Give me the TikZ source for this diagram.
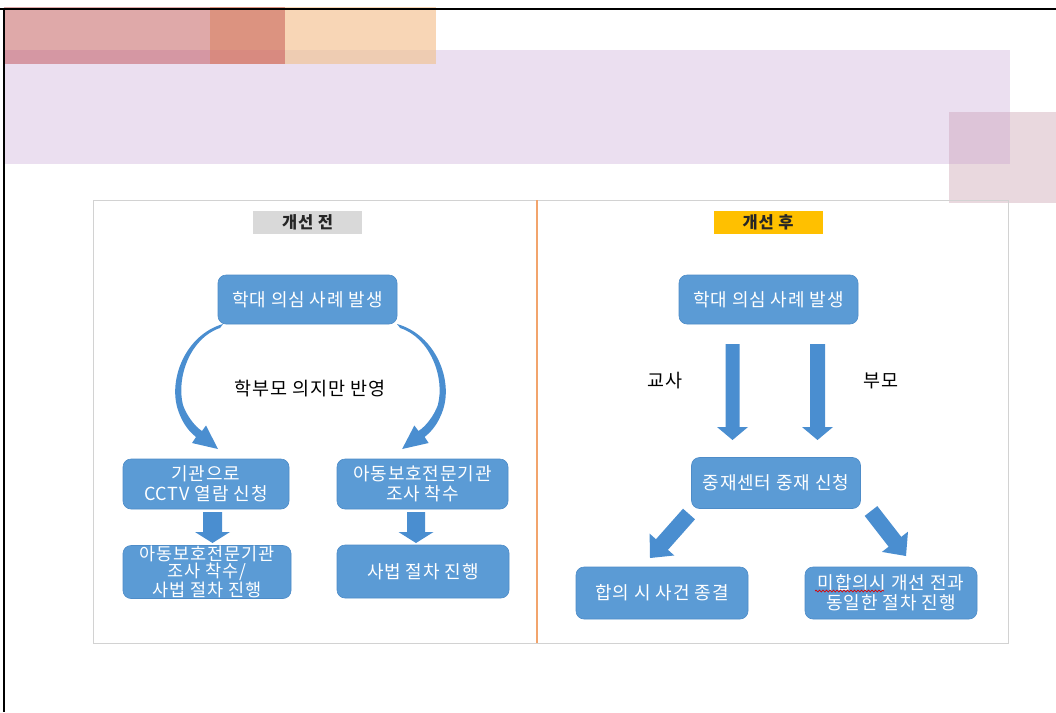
\documentclass[tikz,border=0pt]{standalone}
\usepackage{fontspec}
\setmainfont{Noto Sans CJK KR}[LetterSpace=5]
\usetikzlibrary{calc,decorations.pathmorphing}
\definecolor{boxblue}{HTML}{5B9BD5}
\definecolor{boxedge}{HTML}{4E8CC8}
\definecolor{arrowblue}{HTML}{4A8ED0}
\definecolor{hdrred}{HTML}{DFA9A9}
\definecolor{hdrredL}{HTML}{D597A3}
\definecolor{hdrmid}{HTML}{DC9380}
\definecolor{hdrmidL}{HTML}{D88A80}
\definecolor{hdrpeach}{HTML}{F8D6B6}
\definecolor{hdrpeachL}{HTML}{EECCB2}
\definecolor{lav}{HTML}{EBDFF0}
\definecolor{rpink}{HTML}{E9D8DE}
\definecolor{rpinkL}{HTML}{DDC4D8}
\definecolor{panelgray}{HTML}{D2D2D2}
\definecolor{divorange}{HTML}{F2A46C}
\definecolor{tagGray}{HTML}{D9D9D9}
\definecolor{tagGold}{HTML}{FFC000}
\definecolor{txtdark}{HTML}{262626}
\newcommand{\blockarrow}[5]{%
  \coordinate (tmpH) at ($(#2)!#5!(#1)$);
  \fill[arrowblue]
    ($(#1)!#3!90:(#2)$) -- ($(tmpH)!#3!-90:(#1)$) -- ($(tmpH)!#4!-90:(#1)$)
    -- (#2) -- ($(tmpH)!#4!90:(#1)$) -- ($(tmpH)!#3!90:(#1)$)
    -- ($(#1)!#3!-90:(#2)$) -- cycle;}
\begin{document}
\begin{tikzpicture}[x=1pt,y=-1pt,
  flow/.style={rectangle, rounded corners=8pt, fill=boxblue, draw=boxedge, line width=0.6pt,
    text=white, font=\fontsize{18}{20}\selectfont, align=center, inner sep=0pt},
  tag/.style={rectangle, minimum width=109pt, minimum height=23pt, inner sep=0pt,
    text=txtdark, font=\fontsize{16.5}{18}\selectfont\bfseries},
  plain/.style={text=black, font=\fontsize{18.5}{20}\selectfont, inner sep=0pt}]
\useasboundingbox (0,0) rectangle (1056,712);
\fill[white] (0,0) rectangle (1056,712);
% header decoration
\fill[lav] (4,50) rectangle (1010,164);
\fill[hdrred] (4,7) rectangle (210,64);
\fill[hdrredL] (4,50) rectangle (210,64);
\fill[hdrmid] (210,7) rectangle (285,64);
\fill[hdrmidL] (210,50) rectangle (285,64);
\fill[hdrpeach] (285,7) rectangle (436,64);
\fill[hdrpeachL] (285,50) rectangle (436,64);
\fill[rpink] (949,112) rectangle (1056,203);
\fill[rpinkL] (949,112) rectangle (1010,164);
\draw[black, line width=1.3pt] (0,9) -- (1056,9);
\draw[black, line width=1.3pt] (4,9) -- (4,712);
% panel
\draw[panelgray, line width=1pt] (93,200) rectangle (1008,643);
\draw[divorange, line width=1.5pt] (537,200) -- (537,643);
% tags
\node[tag, fill=tagGray] (tagL) at (307.5,222) {개선 전};
\node[tag, fill=tagGold] (tagR) at (768,222) {개선 후};
% left flow
\node[flow, minimum width=179pt, minimum height=49pt] (L1) at (307.5,299.5) {학대 의심 사례 발생};
\node[plain] (Lmid) at (310,389) {학부모 의지만 반영};
\node[flow, minimum width=166pt, minimum height=50pt] (L2) at (206,484) {기관으로\\CCTV 열람 신청};
\node[flow, minimum width=171pt, minimum height=50pt] (L3) at (422.5,484) {아동보호전문기관\\조사 착수};
\node[flow, minimum width=168pt, minimum height=53pt, font=\fontsize{17.5}{17}\selectfont] (L4) at (207,572) {아동보호전문기관\\조사 착수/\\사법 절차 진행};
\node[flow, minimum width=172pt, minimum height=53pt] (L5) at (423,571.5) {사법 절차 진행};
% curved arrows
\fill[arrowblue] (223,324) .. controls (185,335) and (168,380) .. (178,410)
  .. controls (183,425) and (190,432) .. (196,437) -- (192,443) -- (218,449) -- (206,425.5)
  -- (202,431) .. controls (194,426) and (186,414) .. (183,405)
  .. controls (176,378) and (190,338) .. (220,328) -- cycle;
\begin{scope}[xshift=624.5pt, xscale=-1.02]
\fill[arrowblue] (223,324) .. controls (185,335) and (168,380) .. (178,410)
  .. controls (183,425) and (190,432) .. (196,437) -- (192,443) -- (218,449) -- (206,425.5)
  -- (202,431) .. controls (194,426) and (186,414) .. (183,405)
  .. controls (176,378) and (190,338) .. (220,328) -- cycle;
\end{scope}
% straight down arrows (left)
\coordinate (a1s) at (212.5,512); \coordinate (a1e) at (212.5,543);
\coordinate (a2s) at (416,512);   \coordinate (a2e) at (416,543);
\blockarrow{a1s}{a1e}{9.5pt}{17.5pt}{11pt}
\blockarrow{a2s}{a2e}{9pt}{17.5pt}{11pt}
% right flow
\node[flow, minimum width=179pt, minimum height=49pt] (R1) at (768.5,299.5) {학대 의심 사례 발생};
\node[plain] (teach) at (665,381) {교사};
\node[plain] (par) at (881,381) {부모};
\node[flow, minimum width=169pt, minimum height=51pt] (R2) at (776,483) {중재센터 중재 신청};
\node[flow, minimum width=172pt, minimum height=52pt] (R3) at (662,593) {합의 시 사건 종결};
\node[flow, minimum width=172pt, minimum height=52pt] (R4) at (891,593) {미합의시 개선 전과\\동일한 절차 진행};
\coordinate (b1s) at (732.5,344); \coordinate (b1e) at (732.5,440);
\coordinate (b2s) at (817.5,344); \coordinate (b2e) at (817.5,440);
\blockarrow{b1s}{b1e}{7pt}{15.5pt}{13pt}
\blockarrow{b2s}{b2e}{7.5pt}{15.5pt}{13pt}
\coordinate (c1s) at (689,514); \coordinate (c1e) at (650,558);
\coordinate (c2s) at (871,511); \coordinate (c2e) at (906,556);
\blockarrow{c1s}{c1e}{8pt}{16.5pt}{18pt}
\blockarrow{c2s}{c2e}{8pt}{16.5pt}{18pt}
% spell-check underline
\coordinate (w1) at (815,591); \coordinate (w2) at (884,591);
\draw[red!85!black, line width=0.7pt, decorate, decoration={snake, amplitude=0.9pt, segment length=3.5pt}] (w1) -- (w2);
\end{tikzpicture}
\end{document}
